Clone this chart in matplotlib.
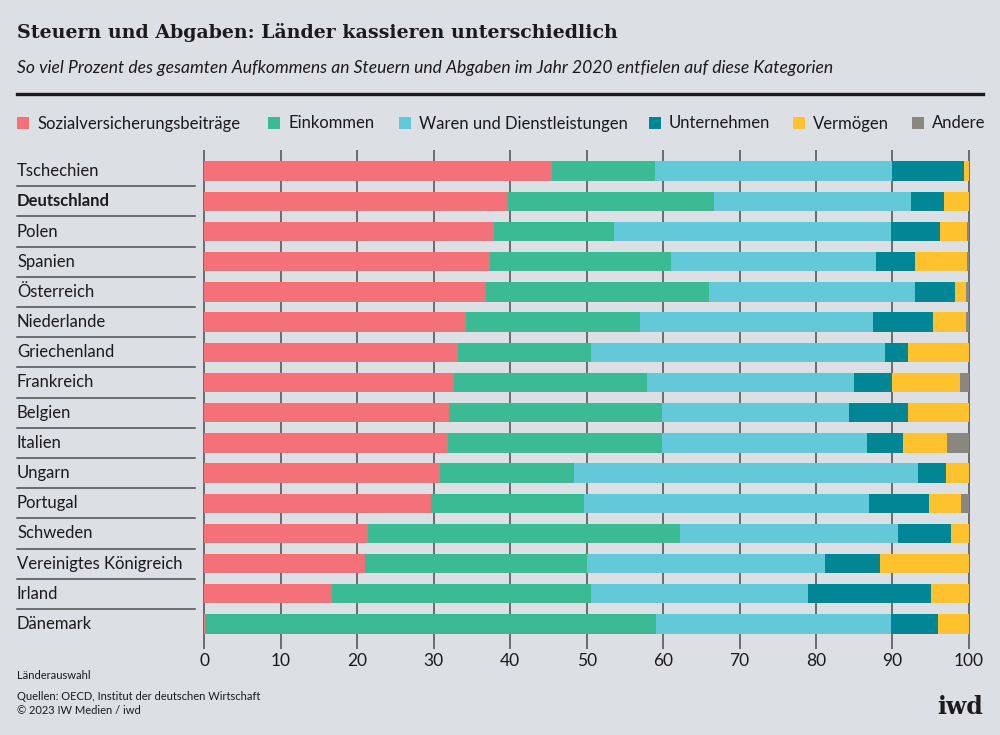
import matplotlib
matplotlib.use("Agg")
import matplotlib.pyplot as plt
from matplotlib import font_manager
from matplotlib.patches import Rectangle
from matplotlib.transforms import blended_transform_factory
import numpy as np

# data (percent of total tax revenue 2020)
countries = ["Tschechien", "Deutschland", "Polen", "Spanien", "Österreich",
             "Niederlande", "Griechenland", "Frankreich", "Belgien", "Italien",
             "Ungarn", "Portugal", "Schweden", "Vereinigtes Königreich",
             "Irland", "Dänemark"]
sozial = [45.5, 39.7, 37.9, 37.4, 36.8, 34.2, 33.2, 32.7, 32.0, 31.8, 30.8, 29.6, 21.4, 21.0, 16.7, 0.1]
einkommen = [13.4, 27.0, 15.7, 23.7, 29.2, 22.8, 17.4, 25.2, 27.9, 28.0, 17.5, 20.0, 40.8, 29.0, 33.9, 59.0]
waren = [31.1, 25.7, 36.2, 26.7, 27.0, 30.5, 38.4, 27.1, 24.4, 26.9, 45.1, 37.4, 28.5, 31.2, 28.3, 30.7]
unternehmen = [9.4, 4.3, 6.4, 5.2, 5.2, 7.8, 3.1, 5.0, 7.7, 4.7, 3.6, 7.8, 7.0, 7.2, 16.2, 6.1]
vermoegen = [0.6, 3.3, 3.6, 6.8, 1.4, 4.3, 7.9, 8.8, 8.0, 5.8, 3.0, 4.2, 2.3, 11.6, 4.9, 4.1]
andere = [0.0, 0.0, 0.2, 0.2, 0.4, 0.4, 0.0, 1.2, 0.0, 2.8, 0.0, 1.0, 0.0, 0.0, 0.0, 0.0]

categories = ["Sozialversicherungsbeiträge", "Einkommen", "Waren und Dienstleistungen",
              "Unternehmen", "Vermögen", "Andere"]
series = [sozial, einkommen, waren, unternehmen, vermoegen, andere]
colors = ["#f4717a", "#3bbb93", "#63c9d8", "#008694", "#ffc22f", "#8a8780"]
xticks = list(range(0, 101, 10))

BG = "#dcdfe3"
INK = "#1c1a1b"

names = {f.name for f in font_manager.fontManager.ttflist}
sans = "Lato" if "Lato" in names else "DejaVu Sans"
narrow = "Liberation Sans Narrow" if "Liberation Sans Narrow" in names else sans
serif = "DejaVu Serif"

W, H = 1000, 735
fig = plt.figure(figsize=(10, 7.35), dpi=100, facecolor=BG)


def fx(px):
    return px / W


def fy(py):
    return 1 - py / H


# header
fig.text(fx(17), fy(37.5), "Steuern und Abgaben: Länder kassieren unterschiedlich",
         family=serif, weight="bold", fontsize=13.7, color=INK, va="baseline")
fig.text(fx(17), fy(73.5),
         "So viel Prozent des gesamten Aufkommens an Steuern und Abgaben im Jahr 2020 entfielen auf diese Kategorien",
         family=narrow, style="italic", fontsize=12.6, color=INK, va="baseline")
fig.add_artist(plt.Line2D([fx(17), fx(983)], [fy(94), fy(94)], color=INK, lw=2.4))

# legend, laid out by hand like the original
legend_x = [17, 268, 399, 649, 793, 912]
for cat, col, lx in zip(categories, colors, legend_x):
    fig.add_artist(Rectangle((fx(lx), fy(129)), fx(12), 12 / H, color=col, lw=0))
    fig.text(fx(lx + 20), fy(128.5), cat, family=sans, fontsize=12, color=INK, va="baseline")

# bars
ax = fig.add_axes([fx(203.3), fy(643), fx(970 - 203.3), (643 - 150) / H])
ax.set_facecolor(BG)
y = np.arange(len(countries))
left = np.zeros(len(countries))
for vals, col in zip(series, colors):
    ax.barh(y, vals, left=left, height=0.64, color=col, linewidth=0, zorder=3)
    left += np.array(vals)

ax.set_xlim(-0.15, 100.15)
ax.set_ylim(15.63, -0.70)
ax.set_xticks(xticks)
ax.set_xticklabels([str(t) for t in xticks], family=narrow, fontsize=12.5, color=INK)
ax.set_yticks([])
ax.grid(axis="x", color="#626262", lw=1.3, zorder=0)
ax.set_axisbelow(True)
for s in ax.spines.values():
    s.set_visible(False)
ax.tick_params(axis="x", length=4, width=1.3, color="#626262", pad=3)

# country labels and separators on the left
tr = blended_transform_factory(fig.transFigure, ax.transData)
for i, name in enumerate(countries):
    ax.text(fx(17), i, name, transform=tr, family=sans, fontsize=12, color=INK,
            va="center", weight="bold" if name == "Deutschland" else "normal")
    if i < len(countries) - 1:
        ax.plot([fx(17), fx(195)], [i + 0.5, i + 0.5], transform=tr, color="#4d4d4d",
                lw=1.1, clip_on=False)

# footer
fig.text(fx(17), fy(679), "Länderauswahl", family=narrow, fontsize=8, color=INK, va="baseline")
fig.text(fx(17), fy(700), "Quellen: OECD, Institut der deutschen Wirtschaft",
         family=narrow, fontsize=8, color=INK, va="baseline")
fig.text(fx(17), fy(714), "© 2023 IW Medien / iwd", family=narrow, fontsize=8,
         color=INK, va="baseline")
fig.text(fx(983), fy(714), "iwd", family=serif, weight="bold", fontsize=17,
         color=INK, ha="right", va="baseline")

fig.savefig("out.png", dpi=100, facecolor=BG)
